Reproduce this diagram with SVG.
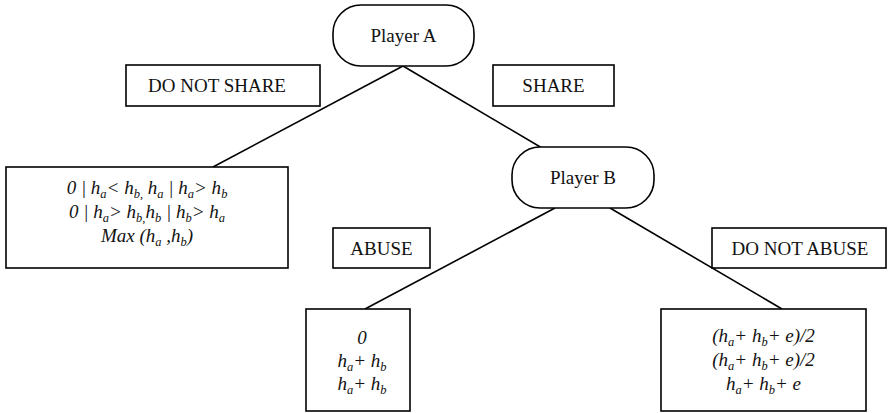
<svg xmlns="http://www.w3.org/2000/svg" width="889" height="413" viewBox="0 0 889 413">
<style>
.box{fill:#fff;stroke:#000;stroke-width:1.6}
.lbl{font-family:"Liberation Serif","DejaVu Serif","Times New Roman",serif;font-size:19px;fill:#111;text-anchor:middle}
.m{font-family:"Liberation Serif","DejaVu Serif","Times New Roman",serif;font-size:19px;font-style:italic;fill:#111;text-anchor:middle}
.s{font-size:12.5px}
.conn line{stroke:#000;stroke-width:1.6}
</style>
<rect width="889" height="413" fill="#fff"/>
<g class="conn" id="connectors">
<line x1="403" y1="66" x2="213" y2="167"/>
<line x1="403" y1="66" x2="542" y2="148"/>
<line x1="555" y1="208" x2="365" y2="309"/>
<line x1="610" y1="208" x2="782" y2="309"/>
</g>
<g id="playerA">
<rect class="box" x="333" y="5" width="141" height="61" rx="28" ry="28"/>
<text class="lbl" x="403.5" y="42">Player A</text>
</g>
<g id="doNotShare">
<rect class="box" x="126" y="65" width="194" height="41"/>
<text class="lbl" x="217" y="92">DO NOT SHARE</text>
</g>
<g id="share">
<rect class="box" x="493" y="65" width="121" height="41"/>
<text class="lbl" x="553.5" y="92">SHARE</text>
</g>
<g id="outcomeNoShare">
<rect class="box" x="6" y="167" width="282" height="101"/>
<text class="m" x="147" y="194">0 | h<tspan class="s" dy="4">a</tspan><tspan dy="-4">&lt; h</tspan><tspan class="s" dy="4">b,</tspan><tspan dy="-4"> h</tspan><tspan class="s" dy="4">a</tspan><tspan dy="-4"> | h</tspan><tspan class="s" dy="4">a</tspan><tspan dy="-4">&gt; h</tspan><tspan class="s" dy="4">b</tspan></text>
<text class="m" x="147" y="218">0 | h<tspan class="s" dy="4">a</tspan><tspan dy="-4">&gt; h</tspan><tspan class="s" dy="4">b,</tspan><tspan dy="-4">h</tspan><tspan class="s" dy="4">b</tspan><tspan dy="-4"> | h</tspan><tspan class="s" dy="4">b</tspan><tspan dy="-4">&gt; h</tspan><tspan class="s" dy="4">a</tspan></text>
<text class="m" x="147" y="242">Max (h<tspan class="s" dy="4">a</tspan><tspan dy="-4"> ,h</tspan><tspan class="s" dy="4">b</tspan><tspan dy="-4">)</tspan></text>
</g>
<g id="playerB">
<rect class="box" x="512" y="147" width="142" height="61" rx="28" ry="28"/>
<text class="lbl" x="583" y="184">Player B</text>
</g>
<g id="abuse">
<rect class="box" x="333" y="228" width="97" height="40"/>
<text class="lbl" x="381.5" y="255">ABUSE</text>
</g>
<g id="doNotAbuse">
<rect class="box" x="712" y="228" width="174" height="40"/>
<text class="lbl" x="800" y="255">DO NOT ABUSE</text>
</g>
<g id="outcomeAbuse">
<rect class="box" x="306" y="309" width="104" height="102"/>
<text class="m" x="362" y="344">0</text>
<text class="m" x="362" y="367">h<tspan class="s" dy="4">a</tspan><tspan dy="-4">+ h</tspan><tspan class="s" dy="4">b</tspan></text>
<text class="m" x="362" y="390">h<tspan class="s" dy="4">a</tspan><tspan dy="-4">+ h</tspan><tspan class="s" dy="4">b</tspan></text>
</g>
<g id="outcomeNoAbuse">
<rect class="box" x="661" y="309" width="205" height="102"/>
<text class="m" x="763.5" y="342">(h<tspan class="s" dy="4">a</tspan><tspan dy="-4">+ h</tspan><tspan class="s" dy="4">b</tspan><tspan dy="-4">+ e)/2</tspan></text>
<text class="m" x="763.5" y="366">(h<tspan class="s" dy="4">a</tspan><tspan dy="-4">+ h</tspan><tspan class="s" dy="4">b</tspan><tspan dy="-4">+ e)/2</tspan></text>
<text class="m" x="763.5" y="390">h<tspan class="s" dy="4">a</tspan><tspan dy="-4">+ h</tspan><tspan class="s" dy="4">b</tspan><tspan dy="-4">+ e</tspan></text>
</g>
</svg>
